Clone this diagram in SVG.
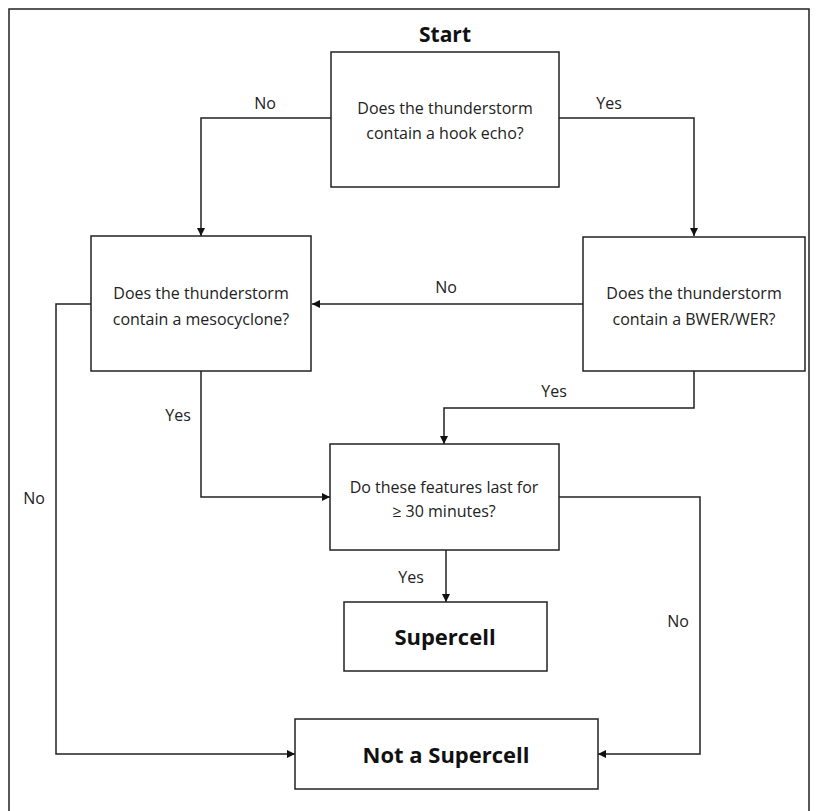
<svg xmlns="http://www.w3.org/2000/svg" width="818" height="811" viewBox="0 0 818 811">
<style>
.box{fill:#fff;stroke:#222;stroke-width:1.5}
.t{font-family:"Open Sans","Liberation Sans",sans-serif;font-size:16px;fill:#222;text-anchor:middle}
.b{font-family:"Open Sans","Liberation Sans",sans-serif;font-weight:bold;fill:#111;text-anchor:middle}
.c{fill:none;stroke:#222;stroke-width:1.5}
</style>
<defs>
<marker id="ah" viewBox="0 0 10 10" refX="10" refY="5" markerWidth="8" markerHeight="8" markerUnits="userSpaceOnUse" orient="auto">
<path d="M0,0 L10,5 L0,10 z" fill="#111"/>
</marker>
</defs>
<rect width="818" height="811" fill="#fff"/>
<path d="M9,811 V9 H809 V811" fill="none" stroke="#222" stroke-width="1.5"/>
<text class="b" x="445" y="42" font-size="21">Start</text>
<g id="connectors">
<path class="c" d="M331,118 H201 V236" marker-end="url(#ah)"/>
<path class="c" d="M559,118 H694 V236" marker-end="url(#ah)"/>
<path class="c" d="M583,304 H312" marker-end="url(#ah)"/>
<path class="c" d="M91,304 H56 V754 H295" marker-end="url(#ah)"/>
<path class="c" d="M201,371 V497 H330" marker-end="url(#ah)"/>
<path class="c" d="M694,371 V408 H444 V444" marker-end="url(#ah)"/>
<path class="c" d="M559,497 H700 V754 H598" marker-end="url(#ah)"/>
<path class="c" d="M446,550 V602" marker-end="url(#ah)"/>
<text class="t" x="265" y="109">No</text>
<text class="t" x="609" y="109">Yes</text>
<text class="t" x="446" y="293">No</text>
<text class="t" x="34" y="504">No</text>
<text class="t" x="178" y="421">Yes</text>
<text class="t" x="554" y="397">Yes</text>
<text class="t" x="411" y="583">Yes</text>
<text class="t" x="678" y="627">No</text>
</g>
<g id="q1">
<rect class="box" x="331" y="52" width="228" height="135"/>
<text class="t" x="445" y="114">Does the thunderstorm</text>
<text class="t" x="445" y="139">contain a hook echo?</text>
</g>
<g id="q2">
<rect class="box" x="91" y="236" width="220" height="135"/>
<text class="t" x="201" y="299">Does the thunderstorm</text>
<text class="t" x="201" y="325">contain a mesocyclone?</text>
</g>
<g id="q3">
<rect class="box" x="583" y="237" width="222" height="134"/>
<text class="t" x="694" y="299">Does the thunderstorm</text>
<text class="t" x="694" y="325">contain a BWER/WER?</text>
</g>
<g id="q4">
<rect class="box" x="330" y="444" width="229" height="106"/>
<text class="t" x="444" y="493">Do these features last for</text>
<text class="t" x="444" y="517">≥ 30 minutes?</text>
</g>
<g id="supercell">
<rect class="box" x="344" y="602" width="203" height="69"/>
<text class="b" x="445" y="645" font-size="22">Supercell</text>
</g>
<g id="notsupercell">
<rect class="box" x="295" y="719" width="303" height="70"/>
<text class="b" x="446" y="763" font-size="22">Not a Supercell</text>
</g>
</svg>
